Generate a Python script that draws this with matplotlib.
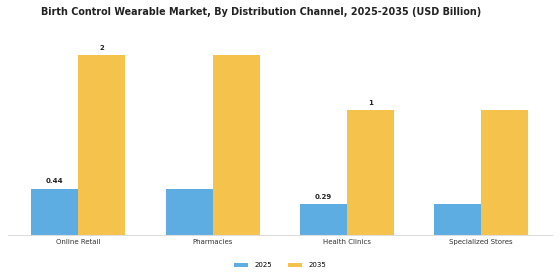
import numpy as np
import matplotlib
matplotlib.use("Agg")
import matplotlib.pyplot as plt

# data
channels = ["Online Retail", "Pharmacies", "Health Clinics", "Specialized Stores"]
v2025 = [0.44, 0.44, 0.29, 0.29]
v2035 = [1.70, 1.70, 1.18, 1.18]
lbl2025 = ["0.44", "", "0.29", ""]
lbl2035 = ["2", "", "1", ""]

c2025 = "#5DADE2"
c2035 = "#F5C24C"

fig = plt.figure(figsize=(5.6, 2.8), dpi=100)
ax = fig.add_axes([0.014, 0.16, 0.972, 0.70])

x = np.arange(len(channels))
w = 0.35
b1 = ax.bar(x - w / 2, v2025, w, color=c2025, label="2025")
b2 = ax.bar(x + w / 2, v2035, w, color=c2035, label="2035")

for bars, labels in [(b1, lbl2025), (b2, lbl2035)]:
    for bar, t in zip(bars, labels):
        if t:
            ax.annotate(t, (bar.get_x() + bar.get_width() / 2, bar.get_height()),
                        xytext=(0, 3), textcoords="offset points", ha="center", va="bottom",
                        fontsize=5, fontweight="bold", color="#222222")

ax.set_xlim(-0.525, 3.53)
ax.set_ylim(0, 1.85)
ax.set_xticks(x)
ax.set_xticklabels(channels, fontsize=5, color="#333333")
ax.tick_params(axis="x", length=0, pad=3)
ax.set_yticks([])
for s in ["top", "right", "left"]:
    ax.spines[s].set_visible(False)
ax.spines["bottom"].set_color("#dddddd")
ax.spines["bottom"].set_linewidth(0.8)

fig.suptitle("Birth Control Wearable Market, By Distribution Channel, 2025-2035 (USD Billion)",
             fontsize=6.9, fontweight="bold", x=0.467, y=0.975, color="#222222")

fig.legend(loc="center", bbox_to_anchor=(0.5, 0.053), ncol=2, frameon=False,
           fontsize=5, handlelength=2.1, handleheight=0.6, columnspacing=2.2,
           handletextpad=0.9)

fig.savefig("out.png", dpi=100)
